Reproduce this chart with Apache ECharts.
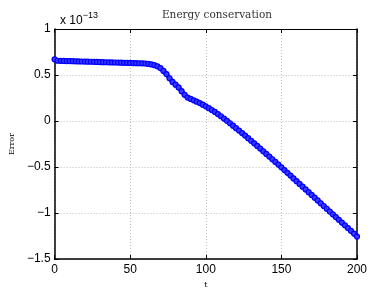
<!DOCTYPE html>
<html><head><meta charset="utf-8">
<script src="https://cdn.jsdelivr.net/npm/echarts@6/dist/echarts.min.js"></script>
<style>html,body{margin:0;padding:0;background:#fff}#c{width:371px;height:294px}</style>
</head><body><div id="c"></div>
<script>
// t values (every 2 units) and Error values (in units of 1e-13)
const tValues = [0,2,4,6,8,10,12,14,16,18,20,22,24,26,28,30,32,34,36,38,40,42,44,46,48,50,52,54,56,58,60,62,64,66,68,70,72,74,76,78,80,82,84,86,88,90,92,94,96,98,100,102,104,106,108,110,112,114,116,118,120,122,124,126,128,130,132,134,136,138,140,142,144,146,148,150,152,154,156,158,160,162,164,166,168,170,172,174,176,178,180,182,184,186,188,190,192,194,196,198,200];
const errorValues = [0.67,0.655,0.654,0.653,0.652,0.651,0.65,0.649,0.648,0.647,0.646,0.645,0.644,0.643,0.642,0.641,0.64,0.639,0.638,0.637,0.636,0.635,0.634,0.633,0.632,0.631,0.63,0.629,0.628,0.627,0.625,0.621,0.615,0.607,0.595,0.575,0.545,0.51,0.465,0.425,0.395,0.365,0.325,0.285,0.255,0.24,0.225,0.21,0.195,0.178,0.16,0.14,0.12,0.099,0.076,0.052,0.027,0.002,-0.024,-0.05,-0.077,-0.104,-0.131,-0.158,-0.186,-0.214,-0.242,-0.27,-0.299,-0.328,-0.357,-0.386,-0.415,-0.444,-0.473,-0.503,-0.533,-0.563,-0.593,-0.623,-0.653,-0.683,-0.713,-0.743,-0.773,-0.803,-0.833,-0.863,-0.893,-0.923,-0.953,-0.983,-1.013,-1.043,-1.073,-1.103,-1.133,-1.163,-1.193,-1.223,-1.255];
const titleText = 'Energy conservation';
const xLabel = 't';
const yLabel = 'Error';

const chart = echarts.init(document.getElementById('c'), null, {renderer:'canvas'});
const fmtY = v => { if (Math.abs(v) < 1e-9) return '0'; return (v < 0 ? '\u2212' : '') + String(Math.abs(v)); };
const tickFont = {fontFamily:'Liberation Sans, Arial, sans-serif', fontSize:12, color:'#000'};
const gridLine = {show:true, lineStyle:{color:'#bdbdbd', type:[1,2], width:1}};
chart.setOption({
  animation:false,
  backgroundColor:'#fff',
  title:[
    {text:titleText, left:212, top:5, textAlign:'center', textStyle:{fontFamily:'DejaVu Serif, Liberation Serif, serif', fontSize:10.5, fontWeight:'normal', color:'#333'}},
    {text:'{a|x 10}{b|\u221213}', left:55, top:4, textStyle:{fontWeight:'normal', rich:{a:{fontFamily:'Liberation Sans, Arial, sans-serif', fontSize:12, fontWeight:'normal', color:'#000', padding:[6,0,0,0]}, b:{fontFamily:'Liberation Sans, Arial, sans-serif', fontSize:9, fontWeight:'normal', color:'#000', padding:[0,0,4,0]}}}}
  ],
  grid:{left:53, right:14, top:29, bottom:27, show:false},
  xAxis:[
    {type:'value', min:0, max:200, interval:50, position:'bottom',
     name:xLabel, nameLocation:'middle', nameGap:16, nameTextStyle:{fontFamily:'DejaVu Serif, serif', fontSize:8, color:'#000'},
     axisLine:{show:true, onZero:false, lineStyle:{color:'#000', width:1.5}},
     axisTick:{show:true, inside:true, length:4, lineStyle:{color:'#000'}},
     axisLabel:Object.assign({margin:5}, tickFont),
     splitLine:gridLine},
    {type:'value', min:0, max:200, interval:50, position:'top',
     axisLine:{show:true, onZero:false, lineStyle:{color:'#000', width:1}},
     axisTick:{show:true, inside:true, length:4, lineStyle:{color:'#000'}},
     axisLabel:{show:false}, splitLine:{show:false}}
  ],
  yAxis:[
    {type:'value', min:-1.5, max:1, interval:0.5, position:'left',
     name:yLabel, nameLocation:'middle', nameGap:34, nameRotate:90, nameTextStyle:{fontFamily:'DejaVu Serif, serif', fontSize:8, color:'#000'},
     axisLine:{show:true, onZero:false, lineStyle:{color:'#000', width:1.5}},
     axisTick:{show:true, inside:true, length:4, lineStyle:{color:'#000'}},
     axisLabel:Object.assign({margin:4, formatter:fmtY}, tickFont),
     splitLine:gridLine},
    {type:'value', min:-1.5, max:1, interval:0.5, position:'right',
     axisLine:{show:true, onZero:false, lineStyle:{color:'#000', width:1.5}},
     axisTick:{show:true, inside:true, length:4, lineStyle:{color:'#000'}},
     axisLabel:{show:false}, splitLine:{show:false}}
  ],
  series:[{
    type:'line', xAxisIndex:0, yAxisIndex:0,
    data: tValues.map((t,i)=>[t, errorValues[i]]),
    symbol:'circle', symbolSize:5, showSymbol:true,
    itemStyle:{color:'#3a3aff', borderColor:'#0000ff', borderWidth:1.2},
    lineStyle:{color:'#1010ff', width:4.5},
    z:5
  }]
});
</script></body></html>
